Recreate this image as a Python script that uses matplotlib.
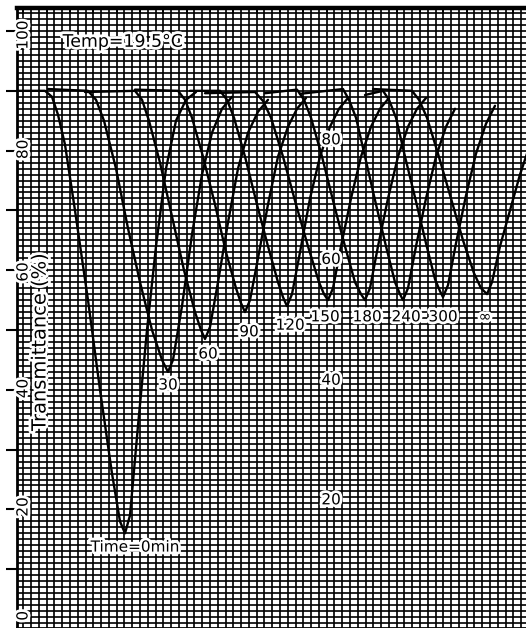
import matplotlib
matplotlib.use("Agg")
import matplotlib.pyplot as plt
from matplotlib.ticker import MultipleLocator, NullFormatter
import matplotlib.patheffects as pe

# ---- data (chart position in recorder units, transmittance in %) ----
x_t0 = [18, 45, 52, 58, 65, 75, 88, 100, 112, 120, 125, 130, 138, 147, 156, 166, 176, 186, 196]
T_t0 = [90, 90, 89, 86, 81, 70, 55, 40, 26, 18, 16, 19, 34, 50, 64, 77, 85, 88.5, 89.8]

x_t30 = [48, 88, 96, 104, 116, 128, 140, 152, 162, 168, 173, 182, 192, 202, 212, 222, 232]
T_t30 = [90.3, 90, 88.5, 85, 77, 67, 58, 50, 45, 43, 45, 54, 66, 76, 83, 87, 89]

x_t60 = [85, 135, 142, 149, 160, 172, 184, 195, 201, 205, 210, 218, 228, 238, 248, 258, 268]
T_t60 = [89.8, 90, 88.5, 85, 78, 69, 60, 53, 50, 48.5, 50.5, 58, 68, 77, 83, 86.5, 88.5]

x_t90 = [135, 178, 185, 192, 203, 215, 226, 236, 241, 245, 250, 258, 268, 278, 288, 297, 306]
T_t90 = [90.2, 90, 88.5, 85.5, 79, 71, 63, 57, 54.5, 53, 55, 62, 71, 79, 84, 87, 88.8]

x_t120 = [190, 220, 227, 234, 245, 257, 268, 278, 283, 287, 292, 300, 310, 320, 330, 339, 348]
T_t120 = [90, 90, 88.5, 85.5, 79, 71, 64, 58, 55.5, 54, 56, 63, 72, 79, 84, 87, 88.8]

x_t150 = [205, 255, 263, 271, 283, 296, 308, 319, 324, 328, 333, 341, 351, 361, 371, 380, 389]
T_t150 = [89.6, 89.8, 88.3, 85.5, 79, 71, 64, 58, 56, 55, 57, 64, 72, 79, 84, 87, 88.8]

x_t180 = [265, 297, 304, 311, 322, 334, 345, 355, 361, 365, 370, 378, 388, 398, 408, 417, 426]
T_t180 = [89.6, 90.2, 88.5, 85.5, 79, 71, 64, 58, 56, 55, 57, 64, 72, 79, 84, 87, 88.8]

x_t240 = [300, 343, 349, 356, 365, 376, 386, 395, 400, 403, 408, 416, 426, 436, 446, 455]
T_t240 = [89.5, 90.3, 88.5, 85.5, 79, 71, 64, 58, 56, 55, 57, 64, 72, 79, 84, 87]

x_t300 = [365, 383, 389, 396, 405, 416, 426, 435, 440, 443, 448, 456, 466, 476, 486, 495]
T_t300 = [89.3, 90, 88.5, 85.5, 79, 71.5, 64.5, 58.5, 56.5, 55.5, 57.5, 64.5, 72.5, 79.5, 84.5, 87.5]

x_tinf = [373, 412, 419, 427, 438, 451, 463, 474, 481, 487, 492, 500, 510, 520, 530]
T_tinf = [90.3, 90, 88.5, 85.5, 79.5, 72, 65, 59.5, 57, 56, 58, 64, 70, 76, 81]

curves_x = [x_t0, x_t30, x_t60, x_t90, x_t120, x_t150, x_t180, x_t240, x_t300, x_tinf]
curves_T = [T_t0, T_t30, T_t60, T_t90, T_t120, T_t150, T_t180, T_t240, T_t300, T_tinf]

time_labels = ["Time=0min", "30", "60", "90", "120", "150", "180", "240", "300", "\u221e"]
time_label_x = [135, 168, 208, 249, 290, 325, 367, 406, 443, 485]
time_label_T = [13.7, 40.8, 46.0, 49.7, 50.8, 52.2, 52.2, 52.2, 52.2, 52.2]

y_tick_values = [0, 20, 40, 60, 80, 100]
y_tick_label_pos = [2.2, 20.4, 40.2, 59.7, 80.2, 99.3]
mid_labels = ["80", "60", "40", "20"]
mid_label_T = [81.8, 61.8, 41.6, 21.6]

temp_text = "Temp=19.5\u00b0C"
ylabel_text = "Transmittance (%)"

# ---- figure ----
W, H = 526, 628
fig = plt.figure(figsize=(W / 100, H / 100), dpi=100)
ax = fig.add_axes([17 / W, 0.0, 1 - 17 / W, 620 / H])
ax.set_xlim(17, 526)
ax.set_ylim(0.17, 103.85)

ax.xaxis.set_major_locator(MultipleLocator(70 / 3))
ax.xaxis.set_minor_locator(MultipleLocator(70 / 9))
ax.yaxis.set_major_locator(MultipleLocator(10))
ax.yaxis.set_minor_locator(MultipleLocator(1))
ax.xaxis.set_major_formatter(NullFormatter())
ax.yaxis.set_major_formatter(NullFormatter())

ax.grid(which="both", color="black", linewidth=1.2, antialiased=True)
ax.set_axisbelow(True)

ax.tick_params(axis="y", which="major", direction="out", length=8, width=1.5,
               left=True, right=False, labelleft=False)
ax.tick_params(axis="y", which="minor", length=0)
ax.tick_params(axis="x", which="major", direction="in", length=4, width=1.3,
               top=True, bottom=False, labeltop=False, labelbottom=False)
ax.tick_params(axis="x", which="minor", length=0)

for s in ["left", "top", "bottom"]:
    ax.spines[s].set_linewidth(2)
ax.spines["top"].set_linewidth(3.2)
ax.spines["right"].set_visible(False)

for xs, Ts in zip(curves_x, curves_T):
    ax.plot(xs, Ts, color="black", linewidth=1.7, solid_joinstyle="round",
            solid_capstyle="round", zorder=3)

halo = [pe.withStroke(linewidth=4, foreground="white")]

for lab, xx, tt in zip(time_labels, time_label_x, time_label_T):
    ax.text(xx, tt, lab, ha="center", va="center", fontsize=11,
            color="black", path_effects=halo, zorder=5)

for v, p in zip(y_tick_values, y_tick_label_pos):
    ax.text(23, p, str(v), rotation=90, ha="center", va="center", fontsize=11,
            color="black", path_effects=halo, zorder=5)

for lab, tt in zip(mid_labels, mid_label_T):
    ax.text(331, tt, lab, ha="center", va="center", fontsize=11,
            color="black", path_effects=halo, zorder=5)

ax.text(123, 98.2, temp_text, ha="center", va="center", fontsize=12.5,
        color="black", path_effects=halo, zorder=5)

ax.text(40, 48.0, ylabel_text, rotation=90, ha="center", va="center",
        fontsize=14, color="black", path_effects=halo, zorder=5)

fig.savefig("out.png", dpi=100, facecolor="white")
